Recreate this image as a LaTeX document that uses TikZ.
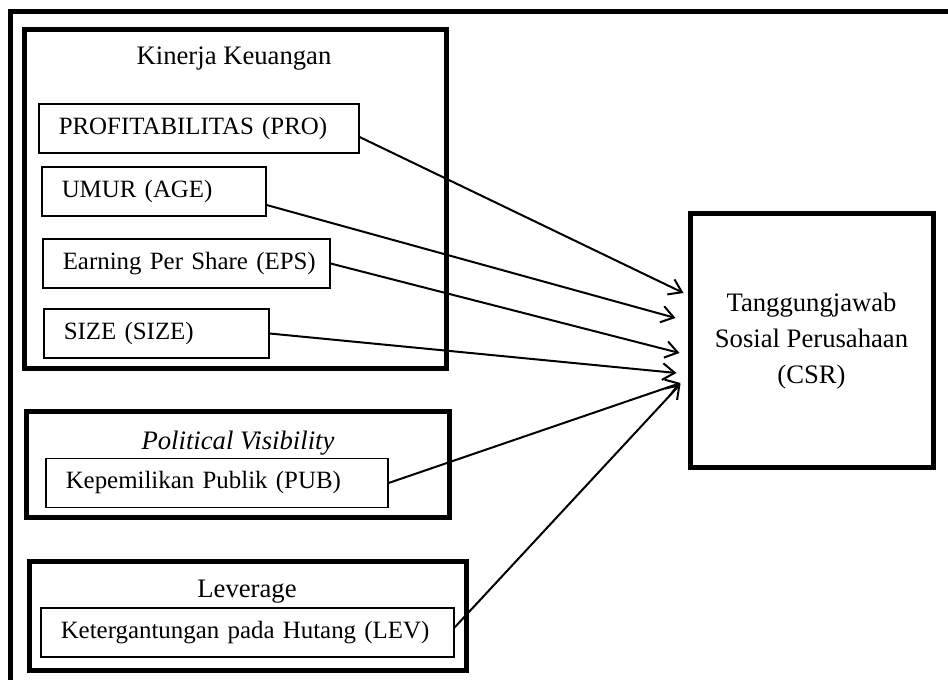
\documentclass[tikz,border=0pt]{standalone}
\usepackage{fontspec}
\setmainfont{Liberation Serif}
\usetikzlibrary{arrows.meta}

\tikzset{
  frame/.style={line width=2.25pt},
  groupbox/.style={draw, line width=2.25pt, inner sep=0pt},
  grouptitle/.style={font=\fontsize{12}{14}\selectfont, anchor=base},
  varbox/.style={draw, line width=0.7pt, anchor=west, align=left,
    inner xsep=1pt, inner ysep=0pt, minimum height=22pt,
    text width=#1*0.45pt-2pt, execute at begin node={\hspace*{8pt}},
    font=\fontsize{11.2}{13}\selectfont},
  link/.style={line width=0.9pt, -{Straight Barb[length=5.5pt,width=7.5pt]}}
}

\begin{document}
\begin{tikzpicture}[x=0.45pt, y=-0.45pt]
  \useasboundingbox (0,0) rectangle (948,680);
  % outer frame (only top and left sides visible)
  \draw[frame] (10,680) |- (948,12);

  % Kinerja Keuangan group
  \node[groupbox, minimum width=422*0.45pt, minimum height=339*0.45pt] (kinerja) at (235,199.5) {};
  \node[grouptitle] (kinerjaT) at (234,65) {Kinerja Keuangan};
  \node[varbox=320] (pro) at (38,128.5) {PROFITABILITAS (PRO)};
  \node[varbox=224] (age) at (41,191.5) {UMUR (AGE)};
  \node[varbox=287] (eps) at (42,263.5) {Earning Per Share (EPS)};
  \node[varbox=225] (size) at (43,333.5) {SIZE (SIZE)};

  % Political Visibility group
  \node[groupbox, minimum width=423*0.45pt, minimum height=106*0.45pt] (political) at (237.5,465) {};
  \node[grouptitle] (politicalT) at (238,450) {\itshape Political Visibility};
  \node[varbox=342] (pub) at (45,483) {Kepemilikan Publik (PUB)};

  % Leverage group
  \node[groupbox, minimum width=437*0.45pt, minimum height=109*0.45pt] (leverage) at (247.5,615.5) {};
  \node[grouptitle] (leverageT) at (247,597) {Leverage};
  \node[varbox=413] (lev) at (40,632.5) {Ketergantungan pada Hutang (LEV)};

  % dependent variable
  \node[groupbox, minimum width=243*0.45pt, minimum height=254*0.45pt, align=center,
    font=\fontsize{12}{16.2}\selectfont] (csr) at (811.5,341)
    {Tanggungjawab\\Sosial Perusahaan\\(CSR)};

  % Arrows
  \draw[link] ([shift={(0,8.5)}]pro.east) -- ([shift={(-4,-48)}]csr.west);
  \draw[link] ([shift={(0,13.5)}]age.east) -- ([shift={(-12,-23)}]csr.west);
  \draw[link] (eps.east) -- ([shift={(-8,12)}]csr.west);
  \draw[link] (size.east) -- ([shift={(-11,32)}]csr.west);
  \draw[link] (pub.east) -- ([shift={(-7,42)}]csr.west);
  \draw[link] ([shift={(0,-5)}]lev.east) -- ([shift={(-7,43)}]csr.west);
\end{tikzpicture}
\end{document}
